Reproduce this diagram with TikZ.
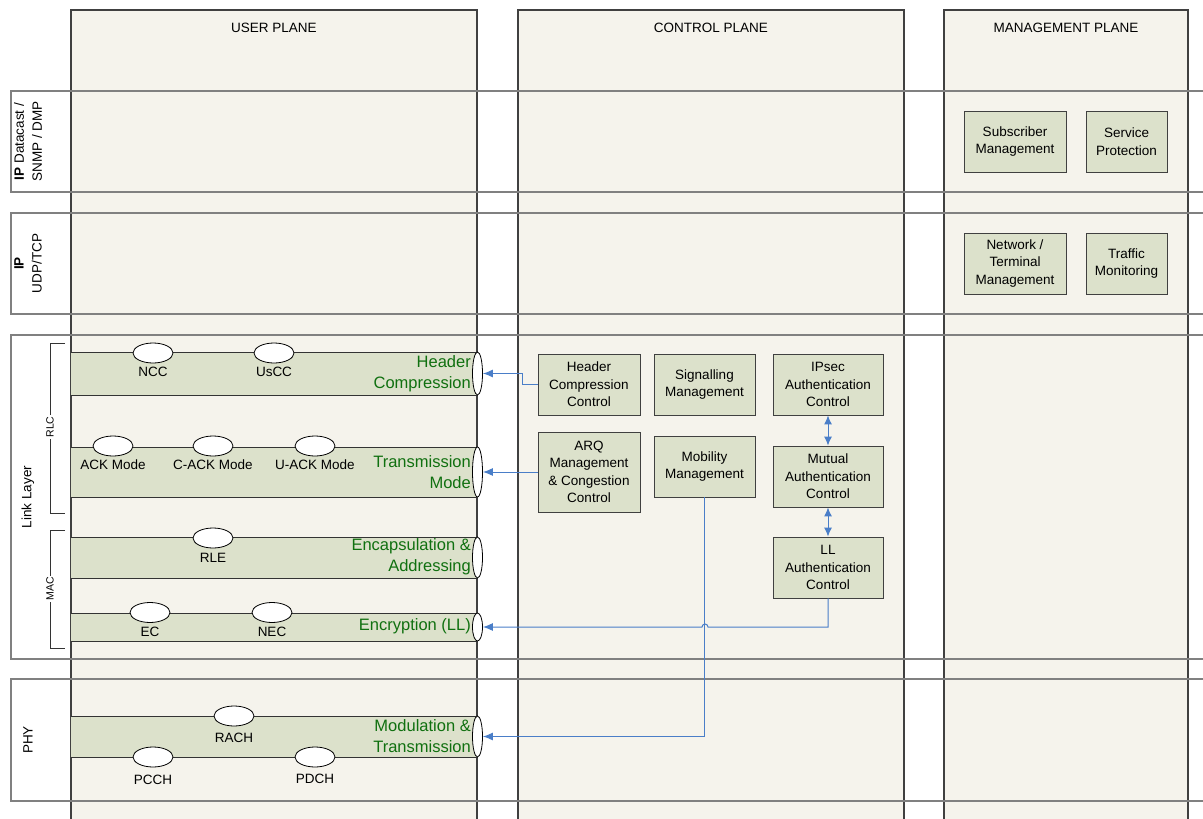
\documentclass[tikz,border=0pt]{standalone}
\usepackage{fontspec}
\setmainfont{Liberation Sans}
\usetikzlibrary{shapes.geometric,arrows.meta}
\definecolor{planefill}{RGB}{245,243,236}
\definecolor{boxfill}{RGB}{220,225,203}
\definecolor{pipegreen}{RGB}{16,112,16}
\definecolor{linkblue}{RGB}{74,126,200}
\definecolor{rowgray}{RGB}{128,128,128}

\begin{document}
\begin{tikzpicture}[x=1pt,y=-1pt,
  planebox/.style={draw=black!75,line width=1.2pt,fill=planefill},
  layerbox/.style={draw=rowgray,line width=1.8pt},
  planetitle/.style={font=\fontsize{13.5}{16}\selectfont},
  rowlabel/.style={rotate=90,align=center,font=\fontsize{13.5}{18}\selectfont},
  sublabel/.style={rotate=90,fill=white,inner sep=1.5pt,font=\fontsize{10.5}{12}\selectfont},
  bracket/.style={draw=black!80,line width=0.9pt},
  funcbox/.style={draw=black!75,fill=boxfill,line width=0.9pt,align=center,inner sep=1pt,font=\fontsize{13.5}{17.5}\selectfont},
  chan/.style={draw=black,fill=white,ellipse,minimum width=40pt,minimum height=20pt,inner sep=0pt,line width=0.8pt},
  chanlabel/.style={font=\fontsize{13.5}{16}\selectfont},
  pipeedge/.style={draw=black!80,line width=0.9pt},
  pipeend/.style={draw=black,fill=white,ellipse,minimum width=10pt,inner sep=0pt,line width=0.8pt},
  pipelabel/.style={anchor=east,align=right,text=pipegreen,inner sep=0pt,font=\fontsize{16.5}{21}\selectfont},
  link/.style={draw=linkblue,line width=1pt},
  toarrow/.style={-{Latex[length=10pt,width=8pt]}},
  botharrow/.style={{Latex[length=9pt,width=8pt]}-{Latex[length=9pt,width=8pt]}},
]
\useasboundingbox (0,0) rectangle (1203,819);
\clip (0,0) rectangle (1203,819);

% planes
\path[planebox] (71,10) rectangle (477,840);
\path[planebox] (518,10) rectangle (904,840);
\path[planebox] (944,10) rectangle (1188,840);
\node[planetitle] (userplane) at (274,28) {USER PLANE};
\node[planetitle] (ctrlplane) at (711,28) {CONTROL PLANE};
\node[planetitle] (mgmtplane) at (1066,28) {MANAGEMENT PLANE};

% layers
\draw[layerbox] (11,91) rectangle (1215,192);
\draw[layerbox] (11,213) rectangle (1215,314);
\draw[layerbox] (11,335) rectangle (1215,659);
\draw[layerbox] (11,679) rectangle (1215,801);
\node[rowlabel] (ipdc) at (28,141.5) {\textbf{IP} Datacast /\\SNMP / DMP};
\node[rowlabel] (ipudp) at (28,263.5) {\textbf{IP}\\UDP/TCP};
\node[rowlabel] (linklayer) at (28,497) {Link Layer};
\node[rowlabel] (phy) at (28,740) {PHY};

% RLC / MAC brackets
\draw[bracket] (65,343) -| (50,513) -- (65,513);
\node[sublabel] (rlc) at (50,427) {RLC};
\draw[bracket] (65,530) -| (50,648) -- (65,648);
\node[sublabel] (mac) at (50,589) {MAC};

% header compression pipe
\fill[boxfill] (71,352) rectangle (477,395);
\draw[pipeedge] (71,352) -- (477,352) (71,395) -- (477,395);
\node[pipeend,minimum height=43pt] (hcend) at (477.5,373.5) {};
\node[pipelabel] (hclabel) at (471,373.5) {Header\\Compression};
\node[chan] (ncc) at (153,353) {};
\node[chanlabel] (ncctext) at (153,372) {NCC};
\node[chan] (uscc) at (274,353) {};
\node[chanlabel] (uscctext) at (274,372) {UsCC};

% transmission mode pipe
\fill[boxfill] (71,447) rectangle (477,497);
\draw[pipeedge] (71,447) -- (477,447) (71,497) -- (477,497);
\node[pipeend,minimum height=50pt] (tmend) at (477.5,472) {};
\node[pipelabel] (tmlabel) at (471,472) {Transmission\\Mode};
\node[chan] (ack) at (113,446) {};
\node[chanlabel] (acktext) at (113,465) {ACK Mode};
\node[chan] (cack) at (213,446) {};
\node[chanlabel] (cacktext) at (213,465) {C-ACK Mode};
\node[chan] (uack) at (315,446) {};
\node[chanlabel] (uacktext) at (315,465) {U-ACK Mode};

% encapsulation pipe
\fill[boxfill] (71,537) rectangle (477,578);
\draw[pipeedge] (71,537) -- (477,537) (71,578) -- (477,578);
\node[pipeend,minimum height=41pt] (eaend) at (477.5,557.5) {};
\node[pipelabel] (ealabel) at (471,557) {Encapsulation \&\\Addressing};
\node[chan] (rle) at (213,538) {};
\node[chanlabel] (rletext) at (213,558) {RLE};

% encryption pipe
\fill[boxfill] (71,613) rectangle (477,641);
\draw[pipeedge] (71,613) -- (477,613) (71,641) -- (477,641);
\node[pipeend,minimum height=28pt] (enend) at (477.5,627) {};
\node[pipelabel] (enlabel) at (471,626) {Encryption (LL)};
\node[chan] (ec) at (150,612.5) {};
\node[chanlabel] (ectext) at (150,632) {EC};
\node[chan] (nec) at (272,612.5) {};
\node[chanlabel] (nectext) at (272,632) {NEC};

% modulation pipe
\fill[boxfill] (71,716) rectangle (477,757);
\draw[pipeedge] (71,716) -- (477,716) (71,757) -- (477,757);
\node[pipeend,minimum height=41pt] (mtend) at (477.5,736.5) {};
\node[pipelabel] (mtlabel) at (471,736) {Modulation \&\\Transmission};
\node[chan] (rach) at (234,716) {};
\node[chanlabel] (rachtext) at (234,738) {RACH};
\node[chan] (pcch) at (153,757) {};
\node[chanlabel] (pcchtext) at (153,780) {PCCH};
\node[chan] (pdch) at (315,757) {};
\node[chanlabel] (pdchtext) at (315,779) {PDCH};

% control plane
\node[funcbox,minimum width=102pt,minimum height=61pt] (hcc) at (589,384.5) {Header\\Compression\\Control};
\node[funcbox,minimum width=101pt,minimum height=61pt] (sig) at (704.5,384.5) {Signalling\\Management};
\node[funcbox,minimum width=110pt,minimum height=61pt] (ipsec) at (828,384.5) {IPsec\\Authentication\\Control};
\node[funcbox,minimum width=102pt,minimum height=80pt] (arq) at (589,472) {ARQ\\Management\\\& Congestion\\Control};
\node[funcbox,minimum width=101pt,minimum height=61pt] (mob) at (704.5,466.5) {Mobility\\Management};
\node[funcbox,minimum width=110pt,minimum height=61pt] (mutual) at (828,476.5) {Mutual\\Authentication\\Control};
\node[funcbox,minimum width=110pt,minimum height=61pt] (llauth) at (828,567.5) {LL\\Authentication\\Control};

% management plane
\node[funcbox,minimum width=102pt,minimum height=61pt] (sub) at (1015,141.5) {Subscriber\\Management};
\node[funcbox,minimum width=81pt,minimum height=61pt] (serv) at (1126.5,141.5) {Service\\Protection};
\node[funcbox,minimum width=102pt,minimum height=61pt] (netm) at (1015,263.5) {Network /\\Terminal\\Management};
\node[funcbox,minimum width=81pt,minimum height=61pt] (traf) at (1126.5,263.5) {Traffic\\Monitoring};

% connectors
\draw[link,toarrow] (hcc.west) -- ++(-15,0) |- (hcend.east);
\draw[link,toarrow] (arq.west) -- (tmend.east);
\draw[link,toarrow] (mob.south) |- (mtend.east);
\draw[link,toarrow] (llauth.south) |- (708,627) arc (0:-180:3) -- (enend.east);
\draw[link,botharrow] (ipsec.south) -- (mutual.north);
\draw[link,botharrow] (mutual.south) -- (llauth.north);
\end{tikzpicture}
\end{document}
